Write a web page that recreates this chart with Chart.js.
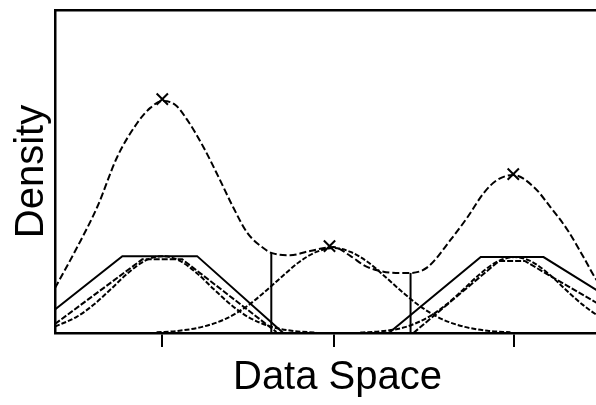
<!DOCTYPE html>
<html lang="en">
<head>
    <meta charset="UTF-8">
    <title>Density Components</title>
    <script src="https://cdn.jsdelivr.net/npm/chart.js"></script>
    <style>
        body { margin: 0; overflow: hidden; background: #fff; }
        #wrap { width: 620px; height: 405px; }
    </style>
</head>
<body>
<div id="wrap"><canvas id="densityChart"></canvas></div>

<script>
    // tick positions on the data axis (component means)
    const tickValues = [2.0, 5.0, 8.17];

    // total density
    const sumX = [0.12, 0.51, 0.86, 1.21, 1.56, 1.79, 2.0, 2.23, 2.44, 2.72, 3.01, 3.24, 3.49, 3.77, 3.91, 4.24, 4.59, 5.0, 5.30, 5.56, 5.82, 6.09, 6.35, 6.65, 7.05, 7.35, 7.63, 7.87, 8.15, 8.51, 8.80, 9.10, 9.38, 9.61, 10.02];
    const sumY = [13.9, 26.6, 39.0, 54.5, 65.0, 69.7, 71.8, 70.6, 65.9, 57.6, 47.4, 39.0, 31.0, 26.3, 24.8, 24.1, 25.4, 26.6, 23.8, 20.7, 19.2, 18.6, 18.6, 20.4, 28.8, 35.9, 43.3, 47.4, 48.9, 45.2, 39.0, 31.9, 23.5, 16.4, 8.0];

    // peaks marked with an x
    const peakX = [2.0, 4.93, 8.15];
    const peakY = [72.4, 26.9, 49.2];

    // component bells
    const leftBellX = [0.12, 0.5, 0.8, 1.1, 1.4, 1.7, 2.0, 2.3, 2.6, 2.9, 3.2, 3.5, 3.9, 4.3, 4.7];
    const leftBellY = [2.0, 5.0, 8.8, 13.6, 18.6, 22.4, 23.8, 22.4, 18.6, 13.6, 8.8, 5.0, 2.0, 0.6, 0.15];
    const midBellX = [1.9, 2.3, 2.7, 3.1, 3.5, 3.8, 4.1, 4.4, 4.7, 5.0, 5.3, 5.6, 5.9, 6.2, 6.5, 6.9, 7.3, 7.7, 8.1];
    const midBellY = [0.2, 0.7, 1.9, 4.3, 8.5, 12.8, 17.5, 22.0, 25.1, 26.3, 25.1, 22.0, 17.5, 12.8, 8.5, 4.3, 1.9, 0.7, 0.2];
    const rightBellX = [5.47, 5.87, 6.27, 6.67, 6.97, 7.27, 7.57, 7.87, 8.17, 8.47, 8.77, 9.07, 9.37, 9.67, 10.07];
    const rightBellY = [0.15, 0.6, 1.9, 5.0, 8.7, 13.4, 18.3, 22.1, 23.5, 22.1, 18.3, 13.4, 8.7, 5.0, 1.9];

    // flat-topped components
    const leftTrapX = [0.12, 1.30, 2.61, 4.12];
    const leftTrapY = [7.3, 23.8, 23.8, 0];
    const leftTrap2X = [0.12, 1.65, 2.35, 4.0];
    const leftTrap2Y = [2.8, 22.8, 22.8, 0.3];
    const rightTrapX = [5.97, 7.58, 8.68, 10.02];
    const rightTrapY = [0, 23.5, 23.5, 8.8];
    const rightTrap2X = [6.4, 7.9, 8.35, 10.02];
    const rightTrap2Y = [0, 22.3, 22.3, 5.1];

    // box around the middle mode
    const boxLeftX = [3.91, 3.91];
    const boxLeftY = [0, 24.8];
    const boxRightX = [6.35, 6.35];
    const boxRightY = [0, 18.6];

    function pts(xs, ys) {
        return xs.map((x, i) => ({x: x, y: ys[i]}));
    }

    function line(xs, ys, dash, smooth) {
        return {
            data: pts(xs, ys),
            showLine: true,
            borderColor: 'black',
            borderWidth: 2,
            borderDash: dash || [],
            pointRadius: 0,
            tension: 0,
            cubicInterpolationMode: smooth ? 'monotone' : 'default'
        };
    }

    const ctx = document.getElementById('densityChart').getContext('2d');
    new Chart(ctx, {
        type: 'scatter',
        data: {
            datasets: [
                line(sumX, sumY, [7, 3], true),
                line(leftBellX, leftBellY, [5, 2], true),
                line(midBellX, midBellY, [5, 2], true),
                line(rightBellX, rightBellY, [5, 2], true),
                line(leftTrapX, leftTrapY, [], false),
                line(leftTrap2X, leftTrap2Y, [6, 2], false),
                line(rightTrapX, rightTrapY, [], false),
                line(rightTrap2X, rightTrap2Y, [6, 2], false),
                line(boxLeftX, boxLeftY, [], false),
                line(boxRightX, boxRightY, [], false),
                {
                    data: pts(peakX, peakY),
                    pointStyle: 'crossRot',
                    pointRadius: 8,
                    borderColor: 'black',
                    borderWidth: 2,
                    showLine: false
                }
            ]
        },
        options: {
            responsive: true,
            maintainAspectRatio: false,
            animation: false,
            devicePixelRatio: 1,
            layout: { autoPadding: false, padding: { left: 12, top: 10, right: 0, bottom: 7 } },
            plugins: { legend: { display: false }, tooltip: { enabled: false } },
            scales: {
                x: {
                    type: 'linear',
                    position: 'bottom',
                    min: 0.12,
                    max: 10.02,
                    afterBuildTicks: (axis) => { axis.ticks = tickValues.map(v => ({value: v})); },
                    ticks: { display: false },
                    grid: { display: true, drawOnChartArea: false, drawTicks: true, tickLength: 14, color: 'black', lineWidth: 2 },
                    border: { display: true, color: 'black', width: 2.5 },
                    title: {
                        display: true,
                        text: 'Data Space',
                        color: 'black',
                        font: { family: "'Liberation Sans', Arial, sans-serif", size: 40, lineHeight: 1 },
                        padding: { top: 11, bottom: 0 }
                    }
                },
                top: {
                    type: 'linear',
                    position: 'top',
                    display: true,
                    ticks: { display: false },
                    grid: { display: false, drawTicks: false },
                    border: { display: true, color: 'black', width: 2.5 }
                },
                y: {
                    type: 'linear',
                    min: 0,
                    max: 100,
                    ticks: { display: false },
                    grid: { display: false, drawTicks: false },
                    border: { display: true, color: 'black', width: 2.5 },
                    title: {
                        display: true,
                        text: 'Density',
                        color: 'black',
                        font: { family: "'Liberation Sans', Arial, sans-serif", size: 40, lineHeight: 1 },
                        padding: { top: 0, bottom: 3 }
                    }
                }
            }
        }
    });
</script>
</body>
</html>
